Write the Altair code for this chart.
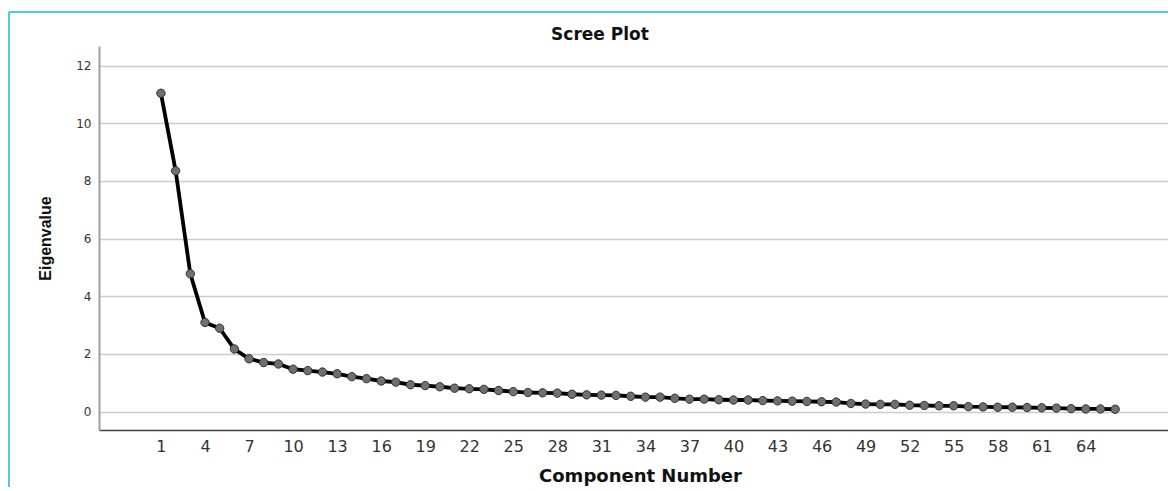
import altair as alt
import pandas as pd

# ---- data ----
components = list(range(1, 67))
eigenvalues = [
    11.04, 8.35, 4.78, 3.09, 2.89, 2.17, 1.83, 1.70, 1.65, 1.47,
    1.42, 1.37, 1.31, 1.21, 1.14, 1.06, 1.02, 0.93, 0.90, 0.86,
    0.81, 0.79, 0.77, 0.73, 0.69, 0.66, 0.65, 0.64, 0.60, 0.58,
    0.57, 0.56, 0.53, 0.50, 0.50, 0.46, 0.43, 0.43, 0.41, 0.40,
    0.40, 0.38, 0.37, 0.36, 0.35, 0.34, 0.33, 0.28, 0.26, 0.25,
    0.25, 0.22, 0.21, 0.20, 0.20, 0.17, 0.16, 0.15, 0.15, 0.14,
    0.13, 0.12, 0.10, 0.09, 0.09, 0.08,
]
x_ticks = list(range(1, 65, 3))
y_ticks = [0, 2, 4, 6, 8, 10, 12]

df = pd.DataFrame({"Component": components, "Eigenvalue": eigenvalues})
frame_df = pd.DataFrame({"k": [0]})

W, H = 1069, 384

x_scale = alt.Scale(domain=[-3.22, 69.6], nice=False, zero=False)
y_scale = alt.Scale(domain=[-0.64, 12.68], nice=False, zero=False)

x_axis = alt.Axis(
    values=x_ticks, title="Component Number", grid=False,
    ticks=False, tickSize=0, labelPadding=8,
    labelFont="DejaVu Sans", labelFontSize=16, labelColor="#333333",
    labelFlush=False, labelOverlap=False,
    domainColor="#404040", domainWidth=1.5,
    titleFont="DejaVu Sans", titleFontSize=18, titleFontWeight="bold",
    titleColor="#111111", titleX=541, titleY=46,
    titleAlign="center", titleBaseline="middle",
)
y_axis = alt.Axis(
    values=y_ticks, title="Eigenvalue", grid=True,
    gridColor="#cccccc", gridWidth=1.5,
    ticks=False, tickSize=0, labelPadding=8,
    labelFont="DejaVu Sans", labelFontSize=12, labelColor="#333333",
    domainColor="#a0a0a0", domainWidth=2,
    titleFont="Liberation Sans", titleFontSize=16, titleFontWeight="bold",
    titleColor="#111111", titleAngle=270, titleX=-54, titleY=192,
    titleAlign="center", titleBaseline="middle",
)

base = alt.Chart(df).encode(
    x=alt.X("Component:Q", scale=x_scale, axis=x_axis),
    y=alt.Y("Eigenvalue:Q", scale=y_scale, axis=y_axis),
)
line = base.mark_line(color="black", strokeWidth=3.8)
pts = base.mark_circle(size=70, color="#6f6f6f", stroke="#333333",
                       strokeWidth=1, opacity=1)

left_border = alt.Chart(frame_df).mark_rule(color="#1ab4ea", strokeWidth=1.5).encode(
    x=alt.value(-90), y=alt.value(-34), y2=alt.value(H + 120)
)
top_border = alt.Chart(frame_df).mark_rule(color="#1ab4ea", strokeWidth=1.5).encode(
    x=alt.value(-90), x2=alt.value(W + 20), y=alt.value(-34)
)

chart = alt.layer(left_border, top_border, line, pts).properties(
    width=W, height=H,
    autosize=alt.AutoSizeParams(type="none"),
    padding={"left": 91, "top": 38, "right": 0, "bottom": 57},
    title=alt.TitleParams(
        "Scree Plot", anchor="middle", frame="group", offset=6, dx=-33.5, dy=39,
        font="DejaVu Sans", fontSize=17, fontWeight="bold", color="#111111",
    ),
    background="white",
).configure_view(stroke="transparent")

chart.save("out.html", embed_options={"renderer": "svg", "actions": False})
